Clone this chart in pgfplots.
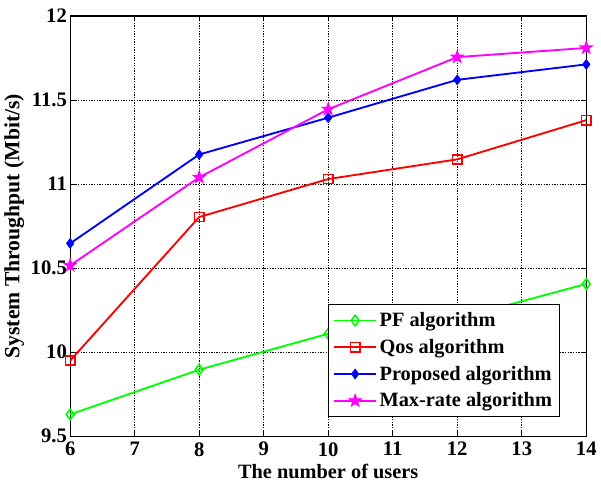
\documentclass[border=0pt]{standalone}
\usepackage{pgfplots}
\pgfplotsset{compat=1.18}
\usepackage{fontspec}
\setmainfont{Liberation Serif}
\definecolor{mgreen}{rgb}{0,1,0}
\definecolor{mmag}{rgb}{1,0,1}
\pgfdeclareplotmark{pentastar}{%
  \pgfpathmoveto{\pgfpointpolar{90}{\pgfplotmarksize}}%
  \pgfpathlineto{\pgfpointpolar{126}{0.4\pgfplotmarksize}}%
  \pgfpathlineto{\pgfpointpolar{162}{\pgfplotmarksize}}%
  \pgfpathlineto{\pgfpointpolar{198}{0.4\pgfplotmarksize}}%
  \pgfpathlineto{\pgfpointpolar{234}{\pgfplotmarksize}}%
  \pgfpathlineto{\pgfpointpolar{270}{0.4\pgfplotmarksize}}%
  \pgfpathlineto{\pgfpointpolar{306}{\pgfplotmarksize}}%
  \pgfpathlineto{\pgfpointpolar{342}{0.4\pgfplotmarksize}}%
  \pgfpathlineto{\pgfpointpolar{18}{\pgfplotmarksize}}%
  \pgfpathlineto{\pgfpointpolar{54}{0.4\pgfplotmarksize}}%
  \pgfpathclose
  \pgfusepathqfillstroke
}
\begin{document}
\begin{tikzpicture}
\begin{axis}[
  name=ax,
  scale only axis,
  width=388pt, height=316pt,
  xmin=6, xmax=14, ymin=9.5, ymax=12,
  xtick={6,7,...,14},
  ytick={9.5,10,10.5,11,11.5,12},
  yticklabels={9.5,10,10.5,11,11.5,12},
  tick align=inside,
  major tick length=4pt,
  grid=major,
  major grid style={black, line width=0.5pt, dash pattern=on 1pt off 1pt},
  axis line style={black, line width=0.9pt},
  tick style={black, line width=0.6pt},
  ticklabel style={font=\fontsize{15.5}{17}\selectfont\bfseries},
  xticklabel style={yshift=-1pt},
  yticklabel style={xshift=1pt},
  /pgf/number format/assume math mode=true,
  xlabel style={font=\fontsize{15.3}{17}\selectfont\bfseries, yshift=1pt},
  ylabel style={font=\fontsize{16.3}{18}\selectfont\bfseries, yshift=-2pt},
  xlabel={The number of users},
  ylabel={System Throughput (Mbit/s)},
  legend style={at={(0.95,0.045)}, anchor=south east, draw=black, line width=0.8pt,
    font=\fontsize{15.3}{17}\selectfont\bfseries, row sep=4pt, inner sep=4pt},
  legend cell align=left,
  legend image code/.code={%
    \draw[mark repeat=2,mark phase=2] plot coordinates {(0cm,0cm) (0.55cm,0cm) (1.1cm,0cm)};},
  every axis plot/.append style={line width=1.4pt},
]
\addplot[color=mgreen, mark=diamond, mark size=4pt, mark options={solid, line width=1.2pt}]
  coordinates {(6,9.63) (8,9.896) (10,10.11) (12,10.2) (14,10.406)};
\addlegendentry{PF algorithm}
\addplot[color=red, mark=square, mark size=3.5pt, mark options={solid, line width=1.2pt}]
  coordinates {(6,9.95) (8,10.804) (10,11.03) (12,11.147) (14,11.38)};
\addlegendentry{Qos algorithm}
\addplot[color=blue, mark=diamond*, mark size=3.5pt, mark options={solid, line width=0.8pt}]
  coordinates {(6,10.647) (8,11.176) (10,11.395) (12,11.62) (14,11.712)};
\addlegendentry{Proposed algorithm}
\addplot[color=mmag, mark=pentastar, mark size=5pt, mark options={solid, line width=0.6pt}]
  coordinates {(6,10.516) (8,11.04) (10,11.445) (12,11.755) (14,11.81)};
\addlegendentry{Max-rate algorithm}
\end{axis}
\path ([yshift=12pt]ax.north);
\end{tikzpicture}
\end{document}
